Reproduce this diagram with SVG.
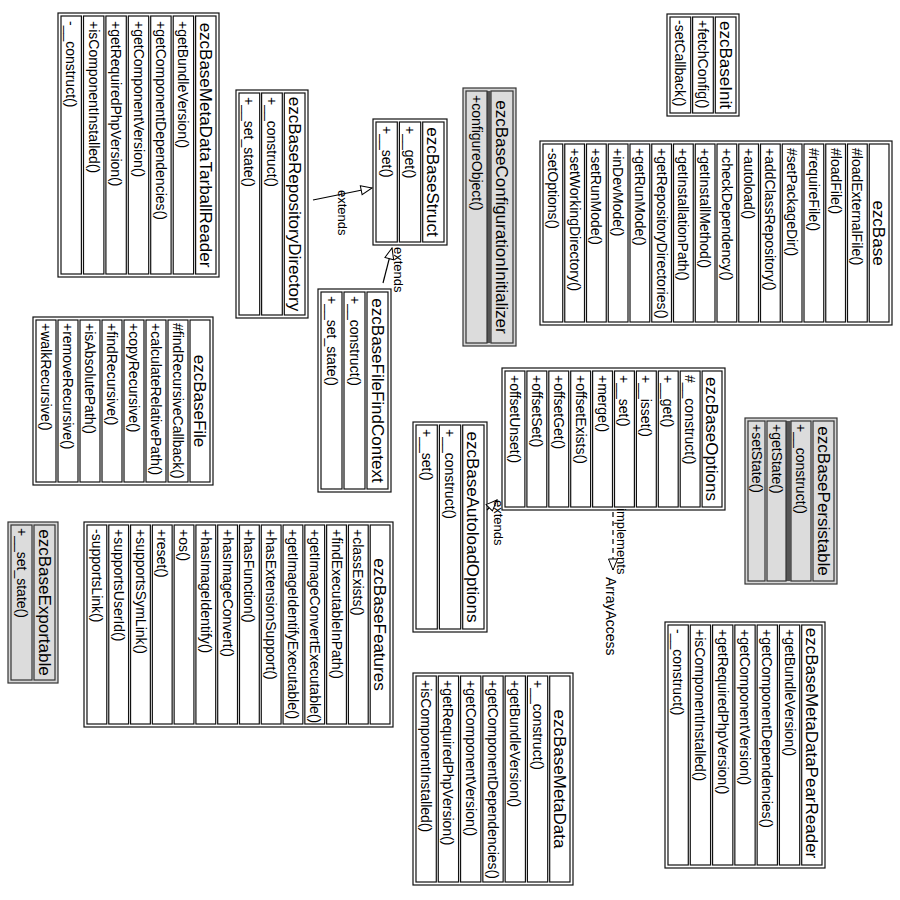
<svg xmlns="http://www.w3.org/2000/svg" width="900" height="900" viewBox="0 0 900 900">
<style>
.o{fill:#fff;stroke:#111;stroke-width:1.2}
.c{fill:#fff;stroke:#111;stroke-width:1.2}
.i .o{fill:#d6d6d6;stroke:#333}
.i .c{fill:#dcdcdc;stroke:#333}
.band{fill:#555}
text{font-family:"Liberation Sans",Arial,sans-serif;fill:#000}
.n{font-size:17px;text-anchor:middle}
.m{font-size:14px}
.l{font-size:13px}
.e{fill:none;stroke:#000;stroke-width:1.2}
.d{stroke-dasharray:5,4}
</style>
<defs>
<marker id="tri" viewBox="-1 -1 13 11" refX="11" refY="4.5" markerWidth="13" markerHeight="11" orient="auto" markerUnits="userSpaceOnUse">
<path d="M0,0 L11,4.5 L0,9 z" fill="#fff" stroke="#000" stroke-width="1"/>
</marker>
</defs>
<rect width="900" height="900" fill="#fff"/>

<g id="ezcBaseMetaDataTarballReader" transform="translate(219,13) rotate(90)">
<rect class="o" x="0" y="0" width="264" height="161"/>
<rect class="c" x="3" y="3" width="258" height="20.4"/>
<rect class="c" x="3" y="25.4" width="258" height="20.4"/>
<rect class="c" x="3" y="47.9" width="258" height="20.4"/>
<rect class="c" x="3" y="70.3" width="258" height="20.4"/>
<rect class="c" x="3" y="92.7" width="258" height="20.4"/>
<rect class="c" x="3" y="115.1" width="258" height="20.4"/>
<rect class="c" x="3" y="137.6" width="258" height="20.4"/>
<text class="n" x="132" y="19.2">ezcBaseMetaDataTarballReader</text>
<text class="m" x="8" y="40.6">+getBundleVersion()</text>
<text class="m" x="8" y="63.1">+getComponentDependencies()</text>
<text class="m" x="8" y="85.5">+getComponentVersion()</text>
<text class="m" x="8" y="107.9">+getRequiredPhpVersion()</text>
<text class="m" x="8" y="130.3">+isComponentInstalled()</text>
<text class="m" x="8" y="152.8">-__construct()</text>
</g>

<g id="ezcBaseRepositoryDirectory" transform="translate(308,90) rotate(90)">
<rect class="o" x="0" y="0" width="228" height="72"/>
<rect class="c" x="3" y="3" width="222" height="20.7"/>
<rect class="c" x="3" y="25.7" width="222" height="20.7"/>
<rect class="c" x="3" y="48.3" width="222" height="20.7"/>
<text class="n" x="114" y="19.3">ezcBaseRepositoryDirectory</text>
<text class="m" x="7" y="41">+__construct()</text>
<text class="m" x="7" y="63.7">+__set_state()</text>
</g>

<g id="ezcBaseStruct" transform="translate(447,119) rotate(90)">
<rect class="o" x="0" y="0" width="126" height="74"/>
<rect class="c" x="3" y="3" width="120" height="21.3"/>
<rect class="c" x="3" y="26.3" width="120" height="21.3"/>
<rect class="c" x="3" y="49.7" width="120" height="21.3"/>
<text class="n" x="63" y="19.7">ezcBaseStruct</text>
<text class="m" x="7" y="42">+__get()</text>
<text class="m" x="7" y="65.3">+__set()</text>
</g>

<g id="ezcBaseConfigurationInitializer" class="i" transform="translate(516,88) rotate(90)">
<rect class="o" x="0" y="0" width="258" height="53"/>
<rect class="c" x="3" y="3" width="252" height="22"/>
<rect class="band" x="3" y="25" width="252" height="4"/>
<rect class="c" x="3" y="29" width="252" height="21"/>
<text class="n" x="129" y="20">ezcBaseConfigurationInitializer</text>
<text class="m" x="7" y="44.5">+configureObject()</text>
</g>

<g id="ezcBaseInit" transform="translate(739,14) rotate(90)">
<rect class="o" x="0" y="0" width="102" height="72"/>
<rect class="c" x="3" y="3" width="96" height="20.7"/>
<rect class="c" x="3" y="25.7" width="96" height="20.7"/>
<rect class="c" x="3" y="48.3" width="96" height="20.7"/>
<text class="n" x="51" y="19.3">ezcBaseInit</text>
<text class="m" x="6" y="41">+fetchConfig()</text>
<text class="m" x="6" y="63.7">-setCallback()</text>
</g>

<g id="ezcBase" transform="translate(892,141) rotate(90)">
<rect class="o" x="0" y="0" width="184" height="352"/>
<rect class="c" x="3" y="3" width="178" height="19.75"/>
<rect class="c" x="3" y="24.75" width="178" height="19.75"/>
<rect class="c" x="3" y="46.5" width="178" height="19.75"/>
<rect class="c" x="3" y="68.25" width="178" height="19.75"/>
<rect class="c" x="3" y="90" width="178" height="19.75"/>
<rect class="c" x="3" y="111.75" width="178" height="19.75"/>
<rect class="c" x="3" y="133.5" width="178" height="19.75"/>
<rect class="c" x="3" y="155.25" width="178" height="19.75"/>
<rect class="c" x="3" y="177" width="178" height="19.75"/>
<rect class="c" x="3" y="198.75" width="178" height="19.75"/>
<rect class="c" x="3" y="220.5" width="178" height="19.75"/>
<rect class="c" x="3" y="242.25" width="178" height="19.75"/>
<rect class="c" x="3" y="264" width="178" height="19.75"/>
<rect class="c" x="3" y="285.75" width="178" height="19.75"/>
<rect class="c" x="3" y="307.5" width="178" height="19.75"/>
<rect class="c" x="3" y="329.25" width="178" height="19.75"/>
<text class="n" x="92" y="18.9">ezcBase</text>
<text class="m" x="7" y="39.6">#loadExternalFile()</text>
<text class="m" x="7" y="61.4">#loadFile()</text>
<text class="m" x="7" y="83.1">#requireFile()</text>
<text class="m" x="7" y="104.9">#setPackageDir()</text>
<text class="m" x="7" y="126.6">+addClassRepository()</text>
<text class="m" x="7" y="148.4">+autoload()</text>
<text class="m" x="7" y="170.1">+checkDependency()</text>
<text class="m" x="7" y="191.9">+getInstallMethod()</text>
<text class="m" x="7" y="213.6">+getInstallationPath()</text>
<text class="m" x="7" y="235.4">+getRepositoryDirectories()</text>
<text class="m" x="7" y="257.1">+getRunMode()</text>
<text class="m" x="7" y="278.9">+inDevMode()</text>
<text class="m" x="7" y="300.6">+setRunMode()</text>
<text class="m" x="7" y="322.4">+setWorkingDirectory()</text>
<text class="m" x="7" y="344.1">-setOptions()</text>
</g>

<g id="ezcBaseFile" transform="translate(213,317) rotate(90)">
<rect class="o" x="0" y="0" width="168" height="180"/>
<rect class="c" x="3" y="3" width="162" height="20"/>
<rect class="c" x="3" y="25" width="162" height="20"/>
<rect class="c" x="3" y="47" width="162" height="20"/>
<rect class="c" x="3" y="69" width="162" height="20"/>
<rect class="c" x="3" y="91" width="162" height="20"/>
<rect class="c" x="3" y="113" width="162" height="20"/>
<rect class="c" x="3" y="135" width="162" height="20"/>
<rect class="c" x="3" y="157" width="162" height="20"/>
<text class="n" x="84" y="19">ezcBaseFile</text>
<text class="m" x="6" y="40">#findRecursiveCallback()</text>
<text class="m" x="6" y="62">+calculateRelativePath()</text>
<text class="m" x="6" y="84">+copyRecursive()</text>
<text class="m" x="6" y="106">+findRecursive()</text>
<text class="m" x="6" y="128">+isAbsolutePath()</text>
<text class="m" x="6" y="150">+removeRecursive()</text>
<text class="m" x="6" y="172">+walkRecursive()</text>
</g>

<g id="ezcBaseFileFindContext" transform="translate(391,289) rotate(90)">
<rect class="o" x="0" y="0" width="203" height="73"/>
<rect class="c" x="3" y="3" width="197" height="21"/>
<rect class="c" x="3" y="26" width="197" height="21"/>
<rect class="c" x="3" y="49" width="197" height="21"/>
<text class="n" x="101.5" y="19.5">ezcBaseFileFindContext</text>
<text class="m" x="7" y="41.5">+__construct()</text>
<text class="m" x="7" y="64.5">+__set_state()</text>
</g>

<g id="ezcBaseOptions" transform="translate(725,368) rotate(90)">
<rect class="o" x="0" y="0" width="142" height="223"/>
<rect class="c" x="3" y="3" width="136" height="19.9"/>
<rect class="c" x="3" y="24.9" width="136" height="19.9"/>
<rect class="c" x="3" y="46.8" width="136" height="19.9"/>
<rect class="c" x="3" y="68.7" width="136" height="19.9"/>
<rect class="c" x="3" y="90.6" width="136" height="19.9"/>
<rect class="c" x="3" y="112.5" width="136" height="19.9"/>
<rect class="c" x="3" y="134.4" width="136" height="19.9"/>
<rect class="c" x="3" y="156.3" width="136" height="19.9"/>
<rect class="c" x="3" y="178.2" width="136" height="19.9"/>
<rect class="c" x="3" y="200.1" width="136" height="19.9"/>
<text class="n" x="71" y="19">ezcBaseOptions</text>
<text class="m" x="7" y="39.9">#__construct()</text>
<text class="m" x="7" y="61.8">+__get()</text>
<text class="m" x="7" y="83.7">+__isset()</text>
<text class="m" x="7" y="105.6">+__set()</text>
<text class="m" x="7" y="127.5">+merge()</text>
<text class="m" x="7" y="149.4">+offsetExists()</text>
<text class="m" x="7" y="171.3">+offsetGet()</text>
<text class="m" x="7" y="193.2">+offsetSet()</text>
<text class="m" x="7" y="215.1">+offsetUnset()</text>
</g>

<g id="ezcBaseAutoloadOptions" transform="translate(487,422) rotate(90)">
<rect class="o" x="0" y="0" width="210" height="74"/>
<rect class="c" x="3" y="3" width="204" height="21.3"/>
<rect class="c" x="3" y="26.3" width="204" height="21.3"/>
<rect class="c" x="3" y="49.7" width="204" height="21.3"/>
<text class="n" x="105" y="19.7">ezcBaseAutoloadOptions</text>
<text class="m" x="7" y="42">+__construct()</text>
<text class="m" x="7" y="65.3">+__set()</text>
</g>

<g id="ezcBasePersistable" class="i" transform="translate(837,418) rotate(90)">
<rect class="o" x="0" y="0" width="166" height="92"/>
<rect class="c" x="3" y="3" width="160" height="21"/>
<rect class="c" x="3" y="26" width="160" height="20"/>
<rect class="band" x="3" y="46" width="160" height="5"/>
<rect class="c" x="3" y="51" width="160" height="19"/>
<rect class="c" x="3" y="72" width="160" height="17"/>
<text class="n" x="83" y="19.5">ezcBasePersistable</text>
<text class="m" x="6" y="41">+__construct()</text>
<text class="m" x="6" y="65.5">+getState()</text>
<text class="m" x="6" y="85.5">+setState()</text>
</g>

<g id="ezcBaseExportable" class="i" transform="translate(58,522) rotate(90)">
<rect class="o" x="0" y="0" width="161" height="50"/>
<rect class="c" x="3" y="3" width="155" height="21"/>
<rect class="c" x="3" y="26" width="155" height="21"/>
<text class="n" x="80.5" y="19.5">ezcBaseExportable</text>
<text class="m" x="6" y="41.5">+__set_state()</text>
</g>

<g id="ezcBaseFeatures" transform="translate(393,522) rotate(90)">
<rect class="o" x="0" y="0" width="205" height="309"/>
<rect class="c" x="3" y="3" width="199" height="19.8"/>
<rect class="c" x="3" y="24.79" width="199" height="19.8"/>
<rect class="c" x="3" y="46.57" width="199" height="19.8"/>
<rect class="c" x="3" y="68.36" width="199" height="19.8"/>
<rect class="c" x="3" y="90.14" width="199" height="19.8"/>
<rect class="c" x="3" y="111.93" width="199" height="19.8"/>
<rect class="c" x="3" y="133.71" width="199" height="19.8"/>
<rect class="c" x="3" y="155.5" width="199" height="19.8"/>
<rect class="c" x="3" y="177.29" width="199" height="19.8"/>
<rect class="c" x="3" y="199.07" width="199" height="19.8"/>
<rect class="c" x="3" y="220.86" width="199" height="19.8"/>
<rect class="c" x="3" y="242.64" width="199" height="19.8"/>
<rect class="c" x="3" y="264.43" width="199" height="19.8"/>
<rect class="c" x="3" y="286.21" width="199" height="19.8"/>
<text class="n" x="102.5" y="18.9">ezcBaseFeatures</text>
<text class="m" x="7" y="39.7">+classExists()</text>
<text class="m" x="7" y="61.5">+findExecutableInPath()</text>
<text class="m" x="7" y="83.3">+getImageConvertExecutable()</text>
<text class="m" x="7" y="105">+getImageIdentifyExecutable()</text>
<text class="m" x="7" y="126.8">+hasExtensionSupport()</text>
<text class="m" x="7" y="148.6">+hasFunction()</text>
<text class="m" x="7" y="170.4">+hasImageConvert()</text>
<text class="m" x="7" y="192.2">+hasImageIdentify()</text>
<text class="m" x="7" y="214">+os()</text>
<text class="m" x="7" y="235.8">+reset()</text>
<text class="m" x="7" y="257.5">+supportsSymLink()</text>
<text class="m" x="7" y="279.3">+supportsUserId()</text>
<text class="m" x="7" y="301.1">-supportsLink()</text>
</g>

<g id="ezcBaseMetaData" transform="translate(573,673) rotate(90)">
<rect class="o" x="0" y="0" width="212" height="160"/>
<rect class="c" x="3" y="3" width="206" height="20.3"/>
<rect class="c" x="3" y="25.29" width="206" height="20.3"/>
<rect class="c" x="3" y="47.57" width="206" height="20.3"/>
<rect class="c" x="3" y="69.86" width="206" height="20.3"/>
<rect class="c" x="3" y="92.14" width="206" height="20.3"/>
<rect class="c" x="3" y="114.43" width="206" height="20.3"/>
<rect class="c" x="3" y="136.71" width="206" height="20.3"/>
<text class="n" x="106" y="19.1">ezcBaseMetaData</text>
<text class="m" x="7" y="40.4">+__construct()</text>
<text class="m" x="7" y="62.7">+getBundleVersion()</text>
<text class="m" x="7" y="85">+getComponentDependencies()</text>
<text class="m" x="7" y="107.3">+getComponentVersion()</text>
<text class="m" x="7" y="129.6">+getRequiredPhpVersion()</text>
<text class="m" x="7" y="151.9">+isComponentInstalled()</text>
</g>

<g id="ezcBaseMetaDataPearReader" transform="translate(825,622) rotate(90)">
<rect class="o" x="0" y="0" width="246" height="160"/>
<rect class="c" x="3" y="3" width="240" height="20.3"/>
<rect class="c" x="3" y="25.29" width="240" height="20.3"/>
<rect class="c" x="3" y="47.57" width="240" height="20.3"/>
<rect class="c" x="3" y="69.86" width="240" height="20.3"/>
<rect class="c" x="3" y="92.14" width="240" height="20.3"/>
<rect class="c" x="3" y="114.43" width="240" height="20.3"/>
<rect class="c" x="3" y="136.71" width="240" height="20.3"/>
<text class="n" x="121" y="19.1">ezcBaseMetaDataPearReader</text>
<text class="m" x="7" y="40.4">+getBundleVersion()</text>
<text class="m" x="7" y="62.7">+getComponentDependencies()</text>
<text class="m" x="7" y="85">+getComponentVersion()</text>
<text class="m" x="7" y="107.3">+getRequiredPhpVersion()</text>
<text class="m" x="7" y="129.6">+isComponentInstalled()</text>
<text class="m" x="7" y="151.9">-__construct()</text>
</g>

<g id="connectors">
<line class="e" x1="313" y1="200" x2="372" y2="188" marker-end="url(#tri)"/>
<text class="l" transform="translate(338,190) rotate(90)">extends</text>
<line class="e" x1="383" y1="283" x2="392" y2="248" marker-end="url(#tri)"/>
<text class="l" transform="translate(394,247) rotate(90)">extends</text>
<line class="e" x1="487" y1="510" x2="497" y2="500" marker-end="url(#tri)"/>
<text class="l" transform="translate(494,500) rotate(90)">extends</text>
<line class="e d" x1="613" y1="512" x2="613" y2="570" marker-end="url(#tri)"/>
<text class="l" transform="translate(617,508) rotate(90)">implements</text>
<text class="m" transform="translate(606,577) rotate(90)">ArrayAccess</text>
</g>
</svg>
